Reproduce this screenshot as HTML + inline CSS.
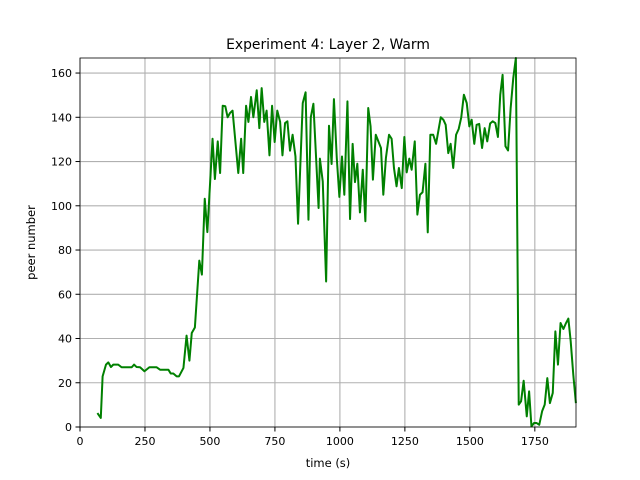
<!DOCTYPE html>
<html><head><meta charset="utf-8"><style>
body{margin:0;background:#fff;}
svg{display:block;font-family:"DejaVu Sans","Liberation Sans",sans-serif;}
</style></head><body>
<svg id="chart" width="640" height="480" viewBox="0 0 640 480">
<rect width="640" height="480" fill="#fff"/>
<text x="328" y="49" font-size="13.9" text-anchor="middle">Experiment 4: Layer 2, Warm</text>
<g id="grid"></g>
<g id="series"></g>
<rect x="80" y="58" width="496" height="369" fill="none" stroke="#000" stroke-width="0.8"/>
<g id="ticks"></g>
<text x="328" y="467" font-size="11.5" text-anchor="middle">time (s)</text>
<text transform="translate(35,242.5) rotate(-90)" font-size="11.5" text-anchor="middle">peer number</text>
</svg>
<script>
const times=[67,80,87,100,109,119,128,147,160,199,208,218,231,248,267,295,308,340,349,359,372,381,398,410,421,430,442,459,469,480,490,510,519,530,539,549,559,568,577,587,609,620,628,639,648,658,667,680,690,699,709,718,729,739,749,759,770,779,789,798,808,818,829,839,857,868,879,888,898,918,923,934,947,958,968,977,988,998,1008,1017,1029,1039,1049,1058,1067,1077,1088,1098,1109,1118,1127,1138,1148,1158,1167,1177,1189,1199,1208,1218,1227,1238,1248,1257,1267,1276,1288,1298,1308,1318,1329,1338,1348,1359,1370,1388,1398,1407,1417,1426,1436,1447,1457,1467,1477,1488,1498,1507,1517,1526,1536,1547,1557,1567,1578,1588,1598,1608,1617,1626,1637,1647,1657,1667,1677,1688,1697,1707,1719,1728,1737,1747,1757,1767,1778,1788,1798,1808,1819,1829,1839,1849,1860,1870,1879,1888,1898,1908];
const peers=[6.3,4.1,22.9,28.2,29.2,27.1,28.2,28.2,27,27,28.2,27.1,27,25.2,27,27,25.9,25.9,24.2,24.2,22.9,22.9,26.7,41.3,30,42.5,45,75.2,68.9,103.2,88.1,130.3,112.1,129.1,114.8,145.2,145,140,141.9,143,114.8,130.3,114.8,145.2,137.9,149.2,140,152.2,135.1,153.2,137.9,143,122.8,145.2,128.8,143,137.9,122.8,137.4,138.2,124.9,132.1,122.3,91.9,146.4,151.3,93.7,140,146.1,99,121.3,111,65.8,136.2,118.9,148.2,121.6,104,122.3,105,147.2,94,128,110.7,119,97,116.3,93,144.2,135.9,111.8,132.1,129.1,126.1,105,121.6,132.1,130.3,117.1,108.8,117.1,108,131.1,115.1,121.3,116.3,129.1,96,105,106.1,119,88,132.1,132.1,128,140,138.9,136.6,123.8,128,117.1,132.1,134.7,140,150.2,146.4,135.9,138.9,128,136.6,137,126.1,135.1,129.1,137.2,138.2,137.4,131.1,150.2,159.2,126.9,125,144.2,157.7,166.8,10.1,11.6,20.9,4.8,16.1,0.3,1.8,1.8,1,7.1,10.1,22.1,10.8,15.4,43.2,28.2,47,44.3,47,49,38.7,23.6,10.8];
const xTicks=[0,250,500,750,1000,1250,1500,1750];
const yTicks=[0,20,40,60,80,100,120,140,160];
const X0=80,X1=576,Y0=427,Y1=58,XMAX=1908.4,YMAX=166.8;
const xs=v=>X0+(v/XMAX)*(X1-X0);
const ys=v=>Y0-(v/YMAX)*(Y0-Y1);
const NS='http://www.w3.org/2000/svg';
const grid=document.getElementById('grid'),ticks=document.getElementById('ticks'),series=document.getElementById('series');
function mk(tag,attrs,parent){const e=document.createElementNS(NS,tag);for(const k in attrs)e.setAttribute(k,attrs[k]);parent.appendChild(e);return e;}
xTicks.forEach(t=>{const x=xs(t);
 const g=mk('line',{x1:x,x2:x,y1:Y1,y2:Y0,stroke:'#b0b0b0','stroke-width':1.1},grid);
 
 
 const tk=mk('line',{x1:x,x2:x,y1:Y0,y2:Y0+4.5,stroke:'#000','stroke-width':1},ticks);
 
 
 const l=mk('text',{x:x,y:Y0+18,'font-size':11,'text-anchor':'middle'},ticks);l.textContent=t;
 
 
});
yTicks.forEach(t=>{const y=ys(t);
 const g=mk('line',{x1:X0,x2:X1,y1:y,y2:y,stroke:'#b0b0b0','stroke-width':1.1},grid);
 
 
 const tk=mk('line',{x1:X0-4.5,x2:X0,y1:y,y2:y,stroke:'#000','stroke-width':1},ticks);
 
 
 const l=mk('text',{x:X0-8,y:y+4,'font-size':11,'text-anchor':'end'},ticks);l.textContent=t;
 
 
});
const d=times.map((t,i)=>(i?'L':'M')+xs(t).toFixed(2)+','+ys(peers[i]).toFixed(2)).join('');
const p=mk('path',{d:d,fill:'none',stroke:'#008000','stroke-width':2,'stroke-linejoin':'round'},series);


</script>
</body></html>
